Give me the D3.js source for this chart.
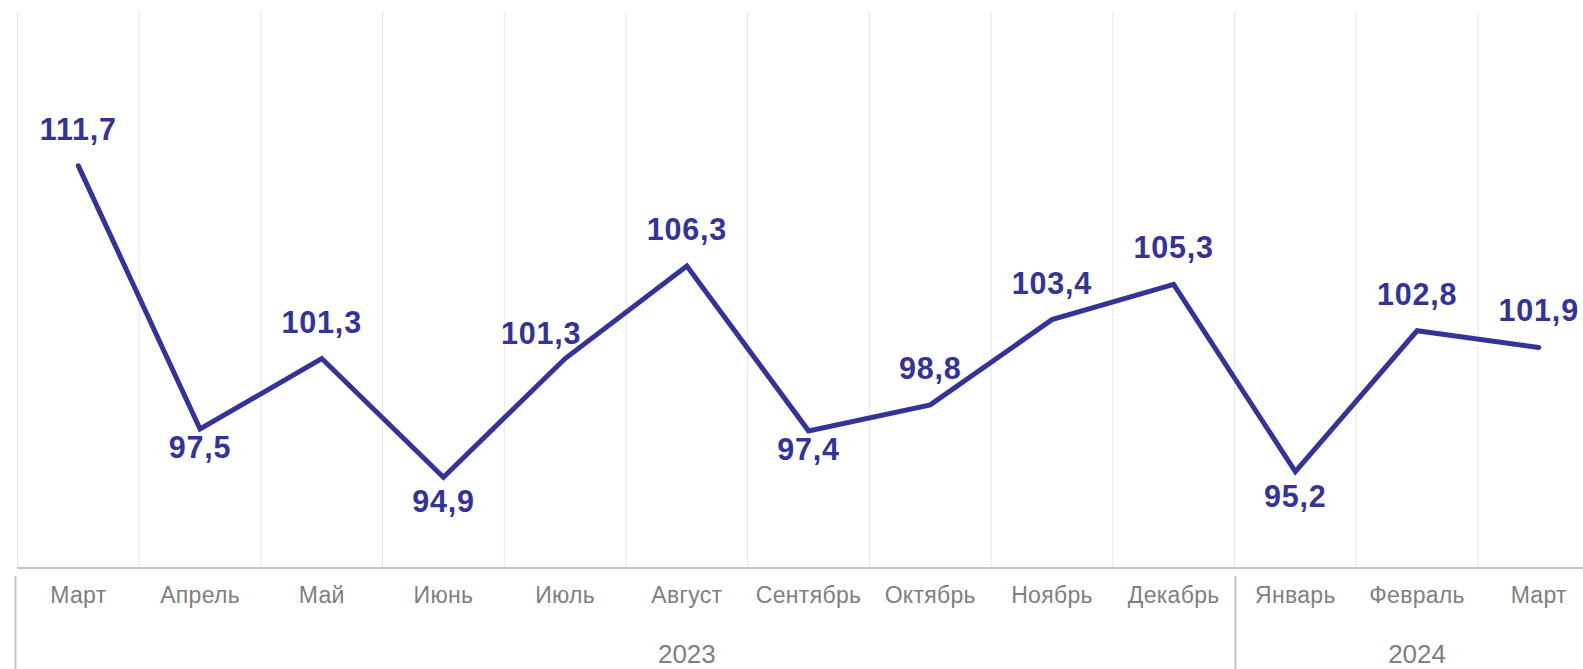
<!DOCTYPE html>
<html>
<head>
<meta charset="utf-8">
<script src="https://cdn.jsdelivr.net/npm/d3@7/dist/d3.min.js"></script>
<style>
  html, body { margin: 0; padding: 0; background: #ffffff; overflow: hidden; }
  svg { display: block; font-family: "Liberation Sans", Arial, sans-serif; }
</style>
</head>
<body>
<svg id="chart" width="1583" height="669"></svg>
<script>
// ---- data ----
const months = ["Март","Апрель","Май","Июнь","Июль","Август","Сентябрь","Октябрь","Ноябрь","Декабрь","Январь","Февраль","Март"];
const values = [111.7, 97.5, 101.3, 94.9, 101.3, 106.3, 97.4, 98.8, 103.4, 105.3, 95.2, 102.8, 101.9];
const valueLabels = ["111,7","97,5","101,3","94,9","101,3","106,3","97,4","98,8","103,4","105,3","95,2","102,8","101,9"];
const years = ["2023","2024"];
const yearMonthCounts = [10, 3];
// label placement: a = above, b = below, d = deep below, l = upper-left
const labelPlacement = ["a","b","a","d","l","a","b","a","a","a","d","a","a"];

// ---- layout ----
const W = 1583, H = 669;
const plotTop = 12, plotBottom = 568;
const bandStart = 17.5, bandStep = 121.7;
const svg = d3.select("#chart");

const keys = months.map((m, i) => i);
const x = d3.scaleBand()
  .domain(keys)
  .range([bandStart, bandStart + bandStep * months.length])
  .paddingInner(0).paddingOuter(0);
const y = d3.scaleLinear().domain([90, 120]).range([plotBottom, plotTop]);

const color = "#333399";
const cx = i => x(i) + x.bandwidth() / 2;

// vertical gridlines at band boundaries
const bounds = keys.map(i => x(i)).concat([x(keys.length - 1) + x.bandwidth()]);
svg.append("g").selectAll("line")
  .data(bounds)
  .join("line")
  .attr("x1", d => d).attr("x2", d => d)
  .attr("y1", plotTop).attr("y2", plotBottom)
  .attr("stroke", "#e6e6e6").attr("stroke-width", 1);

// x axis line
svg.append("line")
  .attr("x1", bandStart - 0.5).attr("x2", W)
  .attr("y1", plotBottom).attr("y2", plotBottom)
  .attr("stroke", "#c4c4c4").attr("stroke-width", 2);

// month tick labels via axis
const xAxis = d3.axisBottom(x).tickSize(0).tickPadding(0).tickFormat(i => months[i]);
const axG = svg.append("g").attr("transform", `translate(0,${plotBottom})`).call(xAxis);
axG.select(".domain").remove();
axG.selectAll("text")
  .attr("y", 35).attr("dy", 0)
  .attr("fill", "#808080")
  .style("font-size", "23px")
  .style("letter-spacing", "0.3px")
  .style("font-family", "'Liberation Sans', Arial, sans-serif");

// year groups
let start = 0;
const groups = years.map((yr, gi) => {
  const g = { year: yr, start: start, end: start + yearMonthCounts[gi] };
  start += yearMonthCounts[gi];
  return g;
});
// separators
svg.append("g").selectAll("line")
  .data(groups)
  .join("line")
  .attr("x1", g => g.start === 0 ? x(0) - 2 : x(g.start) + 1)
  .attr("x2", g => g.start === 0 ? x(0) - 2 : x(g.start) + 1)
  .attr("y1", 576).attr("y2", H)
  .attr("stroke", "#c4c4c4").attr("stroke-width", 2);
// year labels (first group centred on its visible months after the first)
svg.append("g").selectAll("text")
  .data(groups)
  .join("text")
  .attr("x", g => {
    const a = g.start === 0 ? x(1) : x(g.start);
    const b = x(g.end - 1) + x.bandwidth();
    return (a + b) / 2;
  })
  .attr("y", 663)
  .attr("text-anchor", "middle")
  .attr("fill", "#808080")
  .style("font-size", "26px")
  .text(g => g.year);

// line
const line = d3.line().x((d, i) => cx(i)).y(d => y(d));
svg.append("path")
  .datum(values)
  .attr("d", line)
  .attr("fill", "none")
  .attr("stroke", color)
  .attr("stroke-width", 5)
  .attr("stroke-linejoin", "miter")
  .attr("stroke-linecap", "round");

// data labels
const offsets = { a: [0, -26], b: [0, 29], d: [0, 35], l: [-24, -15] };
svg.append("g").selectAll("text")
  .data(values)
  .join("text")
  .attr("x", (d, i) => cx(i) + offsets[labelPlacement[i]][0])
  .attr("y", (d, i) => y(d) + offsets[labelPlacement[i]][1])
  .attr("text-anchor", "middle")
  .attr("fill", color)
  .style("font-size", "30.5px")
  .style("letter-spacing", "0.8px")
  .style("font-weight", "bold")
  .text((d, i) => valueLabels[i]);
</script>
</body>
</html>
